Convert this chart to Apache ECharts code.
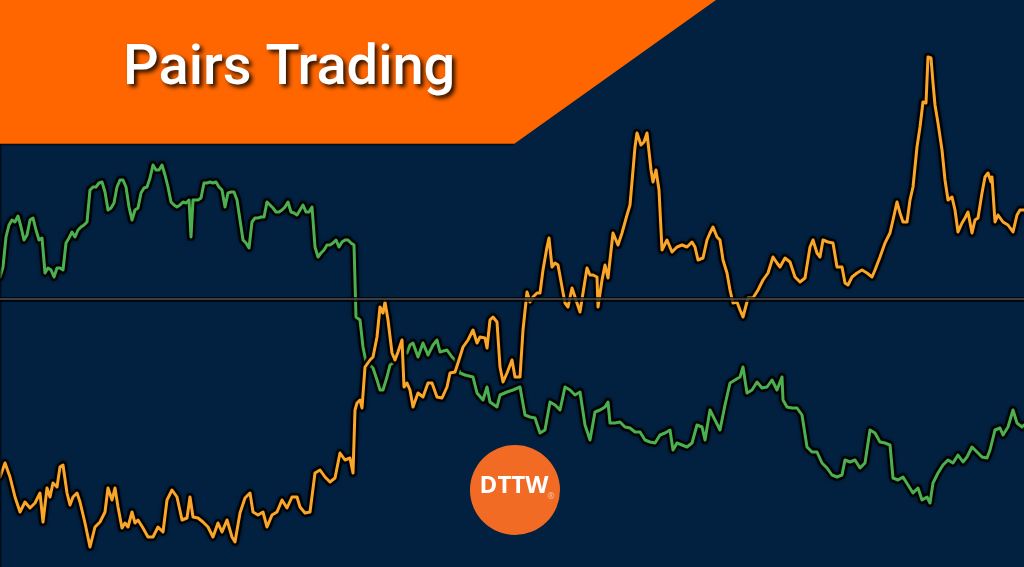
<!DOCTYPE html>
<html>
<head>
<meta charset="utf-8">
<script src="https://cdn.jsdelivr.net/npm/echarts@6/dist/echarts.min.js"></script>
<style>
html,body{margin:0;padding:0;background:#02203f;}
#chart{width:1024px;height:567px;}
</style>
</head>
<body>
<div id="chart"></div>
<script>
// Data: [session, price index]
const greenPoints = [[0,290],[3,300],[6,330],[9,342],[12,347],[15,345],[18,351],[21,340],[24,327],[27,332],[30,347],[33,349],[36,337],[39,327],[42,329],[45,294],[48,299],[51,297],[54,290],[57,299],[60,299],[63,297],[66,324],[69,329],[72,335],[75,330],[78,337],[81,340],[84,342],[87,345],[90,377],[93,380],[96,380],[99,384],[102,385],[105,375],[108,357],[111,359],[114,364],[117,380],[120,387],[123,387],[126,380],[129,360],[132,347],[135,357],[138,359],[141,374],[144,379],[147,380],[150,389],[153,402],[156,397],[159,397],[162,402],[165,392],[168,380],[171,365],[174,362],[177,360],[180,362],[183,365],[186,364],[189,367],[191,330],[193,367],[195,365],[198,367],[201,369],[204,384],[207,384],[210,385],[213,384],[216,385],[219,380],[222,377],[225,360],[228,374],[231,375],[234,375],[237,367],[240,347],[243,327],[246,324],[249,319],[252,345],[255,349],[258,349],[261,350],[264,350],[267,365],[270,362],[273,359],[276,355],[279,355],[282,357],[285,360],[288,365],[291,355],[294,354],[297,352],[300,357],[303,362],[306,355],[309,355],[312,360],[315,320],[318,310],[321,314],[324,317],[327,322],[330,322],[333,324],[336,327],[339,320],[342,325],[345,327],[348,327],[351,324],[354,322],[356,250],[360,247],[363,220],[367,200],[370,202],[373,199],[377,187],[380,177],[383,177],[387,190],[390,202],[393,204],[397,215],[400,222],[403,217],[407,214],[410,222],[413,224],[418,210],[423,224],[428,212],[433,222],[437,227],[440,215],[447,217],[452,210],[455,207],[460,194],[465,192],[473,190],[477,174],[483,167],[487,180],[490,165],[497,160],[500,172],[507,175],[513,177],[520,180],[525,152],[530,150],[535,149],[540,134],[545,137],[550,165],[555,162],[560,157],[565,180],[570,177],[575,172],[580,175],[585,142],[590,127],[595,155],[600,157],[605,160],[608,165],[610,144],[615,144],[620,145],[625,140],[630,139],[635,135],[640,135],[645,127],[650,125],[655,124],[660,132],[665,134],[670,137],[673,117],[677,124],[682,122],[687,120],[692,124],[697,142],[702,140],[705,127],[710,157],[715,147],[720,137],[725,162],[730,184],[735,187],[740,190],[743,200],[747,174],[752,177],[757,185],[762,179],[767,180],[772,187],[777,177],[782,190],[783,167],[787,160],[792,159],[797,159],[802,152],[807,120],[812,115],[817,115],[822,104],[827,99],[832,92],[837,90],[842,92],[845,107],[850,105],[855,107],[860,99],[865,104],[870,137],[875,134],[880,125],[885,124],[890,122],[893,89],[898,87],[903,90],[908,82],[913,74],[918,79],[922,67],[927,70],[930,64],[933,84],[938,94],[943,102],[948,107],[953,104],[958,112],[963,105],[967,110],[972,120],[977,115],[982,110],[987,109],[990,117],[995,137],[1000,139],[1003,132],[1008,140],[1013,157],[1017,144],[1022,140],[1024,142]];

const orangePoints = [[0,90],[5,104],[10,90],[15,70],[20,55],[25,65],[30,59],[35,64],[40,74],[43,45],[47,79],[50,70],[53,84],[57,80],[60,100],[63,102],[67,74],[70,62],[73,70],[77,74],[80,65],[85,44],[90,20],[95,40],[100,45],[105,55],[108,79],[112,67],[115,79],[118,60],[122,39],[125,44],[128,40],[132,55],[135,44],[138,47],[143,39],[148,30],[153,30],[158,40],[163,35],[167,67],[172,77],[177,70],[182,47],[187,49],[190,70],[193,50],[198,49],[203,45],[208,40],[213,30],[218,44],[222,35],[227,47],[232,30],[235,25],[240,54],[245,69],[250,74],[253,55],[258,52],[263,55],[267,40],[272,52],[277,55],[282,67],[287,59],[292,70],[297,70],[300,60],[305,54],[310,55],[315,94],[320,97],[325,90],[330,85],[335,89],[340,114],[345,107],[350,109],[353,94],[355,157],[357,164],[360,167],[362,159],[365,200],[370,207],[373,210],[377,230],[380,260],[383,254],[385,265],[388,247],[392,214],[395,207],[398,215],[402,227],[404,180],[407,184],[410,177],[413,160],[418,174],[423,170],[428,184],[432,184],[437,170],[442,169],[447,180],[450,194],[455,195],[458,204],[463,220],[468,227],[473,237],[477,224],[480,230],[485,229],[487,219],[490,247],[493,250],[497,245],[500,200],[503,185],[507,194],[512,207],[515,190],[520,190],[523,237],[527,275],[530,265],[533,270],[537,274],[540,274],[543,297],[547,320],[549,329],[552,300],[555,304],[558,302],[562,280],[565,264],[568,260],[572,279],[574,280],[577,264],[580,255],[583,274],[587,299],[590,292],[593,292],[597,290],[598,260],[602,287],[605,302],[608,289],[610,307],[613,334],[618,322],[622,334],[627,352],[630,362],[635,420],[637,434],[641,422],[644,425],[647,434],[651,397],[653,385],[656,397],[659,377],[662,317],[667,327],[672,315],[677,320],[682,322],[687,320],[692,325],[695,320],[698,307],[703,309],[707,327],[710,334],[713,340],[717,330],[720,327],[723,307],[727,294],[730,277],[733,264],[737,265],[740,257],[743,250],[748,269],[753,269],[758,277],[763,287],[768,294],[773,310],[777,304],[780,300],[785,309],[790,305],[795,290],[800,285],[805,289],[810,320],[813,327],[817,314],[820,310],[823,327],[828,325],[833,324],[837,300],[842,300],[845,284],[848,282],[852,290],[857,294],[862,297],[867,294],[872,290],[875,297],[880,310],[885,324],[890,334],[893,347],[897,365],[900,354],[903,345],[907,345],[910,367],[913,380],[917,420],[920,440],[923,465],[926,464],[928,510],[931,509],[933,484],[935,462],[938,444],[942,417],[945,387],[948,367],[952,370],[955,357],[958,335],[962,344],[965,349],[968,355],[972,334],[975,347],[978,349],[982,374],[985,390],[988,394],[991,385],[992,390],[995,345],[998,352],[1003,345],[1008,342],[1013,335],[1017,352],[1020,357],[1024,357]];

const spreadMean = 268;
const titleText = 'Pairs Trading';
const logoText = 'DTTW';

const chart = echarts.init(document.getElementById('chart'), null, {renderer:'canvas'});
const outline = (d) => ({type:'line', data:d, symbol:'none', silent:true,
  lineStyle:{color:'#000', width:8, opacity:0.85, join:'round', cap:'round',
    shadowColor:'rgba(0,0,0,0.6)', shadowBlur:3}});
const line = (d, c) => ({type:'line', data:d, symbol:'none', silent:true,
  lineStyle:{color:c, width:3, join:'round', cap:'round'}});

const orangeLine = line(orangePoints, '#f9a62b');
orangeLine.markLine = {symbol:'none', silent:true, label:{show:false},
  data:[{yAxis:spreadMean, lineStyle:{color:'#000', width:5, opacity:0.75, type:'solid'}},
        {yAxis:spreadMean, lineStyle:{color:'#5f5f5f', width:1.5, opacity:0.85, type:'solid'}}]};

chart.setOption({
  animation:false,
  backgroundColor:'#02203f',
  grid:{left:0,right:0,top:0,bottom:0},
  xAxis:{type:'value', min:0, max:1024, show:false},
  yAxis:{type:'value', min:0, max:567, show:false},
  series:[outline(greenPoints), line(greenPoints,'#4caf50'), outline(orangePoints), orangeLine],
  graphic:[
    {type:'line', shape:{x1:0.5,y1:143,x2:0.5,y2:567}, style:{stroke:'#000', lineWidth:2, opacity:0.6}, z:5},
    {type:'polygon', shape:{points:[[0,0],[716,0],[514,144],[0,144]]}, style:{fill:'#ff6600'}, z:10},
    {type:'line', shape:{x1:0,y1:144.5,x2:514,y2:144.5}, style:{stroke:'#000', lineWidth:2, opacity:0.5}, z:10},
    {type:'text', left:123, top:42, z:20,
      style:{text:titleText, fill:'#ffffff', font:'500 56px Roboto',
        textShadowColor:'rgba(0,0,0,0.85)', textShadowBlur:4, textShadowOffsetX:3, textShadowOffsetY:3}},
    {type:'circle', shape:{cx:515, cy:490, r:45}, style:{fill:'#f26b25'}, z:20},
    {type:'text', x:514, y:486, z:21,
      style:{text:logoText, fill:'#ffffff', font:'bold 24px "Open Sans"', align:'center', verticalAlign:'middle'}},
    {type:'text', x:551, y:496, z:21,
      style:{text:'®', fill:'#f8c6a4', font:'9px "Open Sans"', align:'center', verticalAlign:'middle'}}
  ]
});
</script>
</body>
</html>
